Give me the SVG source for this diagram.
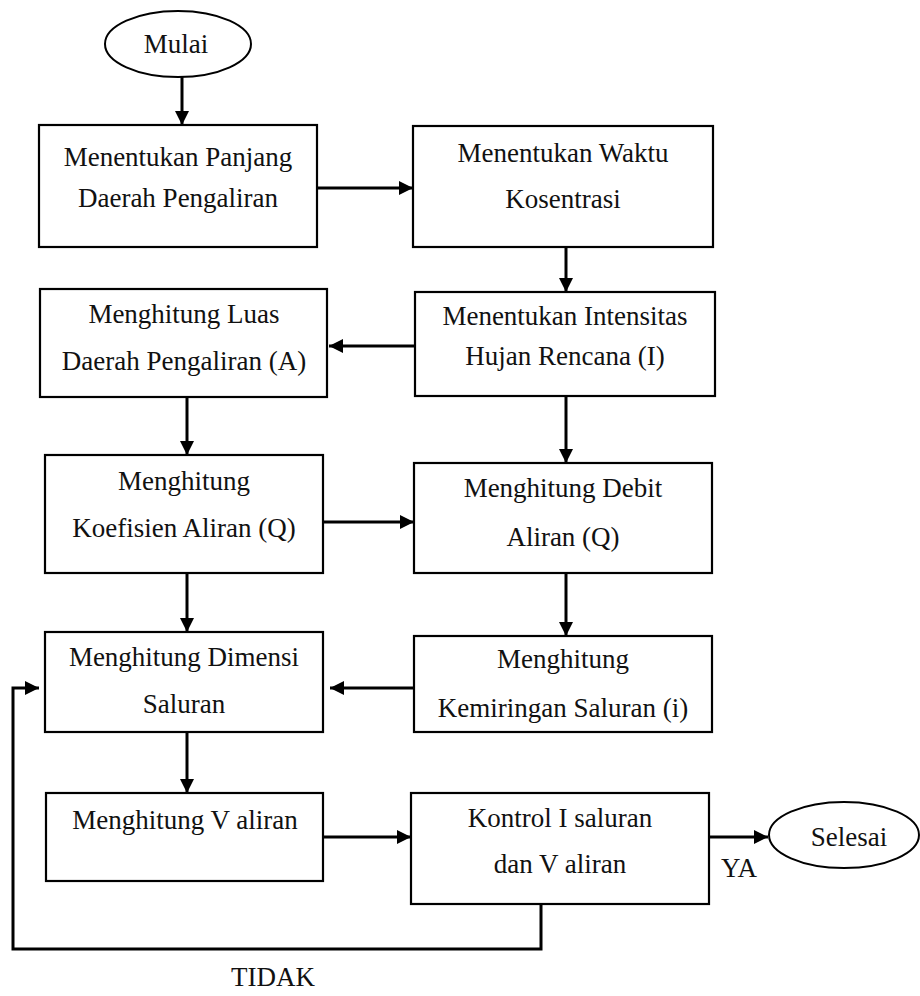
<svg xmlns="http://www.w3.org/2000/svg" width="920" height="996" viewBox="0 0 920 996">
  <style>
    .box { fill: #fff; stroke: #000; stroke-width: 2.2; }
    .term { fill: #fff; stroke: #000; stroke-width: 2; }
    .lbl { font-family: "Liberation Serif", "Times New Roman", serif; font-size: 27px; fill: #111; text-anchor: middle; }
    .tag { font-family: "Liberation Serif", "Times New Roman", serif; font-size: 27px; fill: #111; }
    .flow { fill: none; stroke: #000; stroke-width: 3; }
  </style>
  <defs>
    <marker id="arrow" markerUnits="userSpaceOnUse" markerWidth="14" markerHeight="14" viewBox="0 0 14 14" refX="14" refY="7" orient="auto">
      <path d="M0,0 L14,7 L0,14 Z" fill="#000"/>
    </marker>
  </defs>
  <rect width="920" height="996" fill="#fff"/>

  <g id="connectors">
    <line class="flow" x1="182" y1="77" x2="182" y2="125" marker-end="url(#arrow)"/>
    <line class="flow" x1="317" y1="188" x2="413" y2="188" marker-end="url(#arrow)"/>
    <line class="flow" x1="566" y1="247" x2="566" y2="292" marker-end="url(#arrow)"/>
    <line class="flow" x1="415" y1="346" x2="329" y2="346" marker-end="url(#arrow)"/>
    <line class="flow" x1="187" y1="397" x2="187" y2="455" marker-end="url(#arrow)"/>
    <line class="flow" x1="566" y1="396" x2="566" y2="463" marker-end="url(#arrow)"/>
    <line class="flow" x1="323" y1="522" x2="414" y2="522" marker-end="url(#arrow)"/>
    <line class="flow" x1="187" y1="573" x2="187" y2="632" marker-end="url(#arrow)"/>
    <line class="flow" x1="566" y1="573" x2="566" y2="636" marker-end="url(#arrow)"/>
    <line class="flow" x1="414" y1="688" x2="330" y2="688" marker-end="url(#arrow)"/>
    <line class="flow" x1="187" y1="732" x2="187" y2="793" marker-end="url(#arrow)"/>
    <line class="flow" x1="323" y1="837" x2="411" y2="837" marker-end="url(#arrow)"/>
    <line class="flow" x1="709" y1="837" x2="768" y2="837" marker-end="url(#arrow)"/>
    <polyline class="flow" points="541,904 541,949 13,949 13,688 39,688" marker-end="url(#arrow)"/>
    <text class="tag" x="721" y="877">YA</text>
    <text class="tag" x="231" y="986">TIDAK</text>
  </g>

  <g id="mulai">
    <ellipse class="term" cx="178" cy="44" rx="73" ry="33"/>
    <text class="lbl" x="176" y="53">Mulai</text>
  </g>

  <g id="panjang">
    <rect class="box" x="39" y="125" width="278" height="122"/>
    <text class="lbl" x="178" y="166">Menentukan Panjang</text>
    <text class="lbl" x="178" y="207">Daerah Pengaliran</text>
  </g>

  <g id="waktu">
    <rect class="box" x="413" y="126" width="300" height="121"/>
    <text class="lbl" x="563" y="162">Menentukan Waktu</text>
    <text class="lbl" x="563" y="208">Kosentrasi</text>
  </g>

  <g id="intensitas">
    <rect class="box" x="415" y="292" width="300" height="104"/>
    <text class="lbl" x="565" y="325">Menentukan Intensitas</text>
    <text class="lbl" x="565" y="365">Hujan Rencana (I)</text>
  </g>

  <g id="luas">
    <rect class="box" x="40" y="289" width="287" height="108"/>
    <text class="lbl" x="184" y="323">Menghitung Luas</text>
    <text class="lbl" x="184" y="370">Daerah Pengaliran (A)</text>
  </g>

  <g id="koefisien">
    <rect class="box" x="45" y="455" width="278" height="118"/>
    <text class="lbl" x="184" y="490">Menghitung</text>
    <text class="lbl" x="184" y="537">Koefisien Aliran (Q)</text>
  </g>

  <g id="debit">
    <rect class="box" x="414" y="463" width="298" height="110"/>
    <text class="lbl" x="563" y="497">Menghitung Debit</text>
    <text class="lbl" x="563" y="546">Aliran (Q)</text>
  </g>

  <g id="kemiringan">
    <rect class="box" x="414" y="636" width="298" height="96"/>
    <text class="lbl" x="563" y="668">Menghitung</text>
    <text class="lbl" x="563" y="717">Kemiringan Saluran (i)</text>
  </g>

  <g id="dimensi">
    <rect class="box" x="45" y="632" width="278" height="100"/>
    <text class="lbl" x="184" y="666">Menghitung Dimensi</text>
    <text class="lbl" x="184" y="713">Saluran</text>
  </g>

  <g id="v-aliran">
    <rect class="box" x="46" y="793" width="277" height="88"/>
    <text class="lbl" x="185" y="829">Menghitung V aliran</text>
  </g>

  <g id="kontrol">
    <rect class="box" x="411" y="793" width="298" height="111"/>
    <text class="lbl" x="560" y="827">Kontrol I saluran</text>
    <text class="lbl" x="560" y="873">dan V aliran</text>
  </g>

  <g id="selesai">
    <ellipse class="term" cx="844" cy="835" rx="75" ry="33"/>
    <text class="lbl" x="849" y="846">Selesai</text>
  </g>
</svg>
